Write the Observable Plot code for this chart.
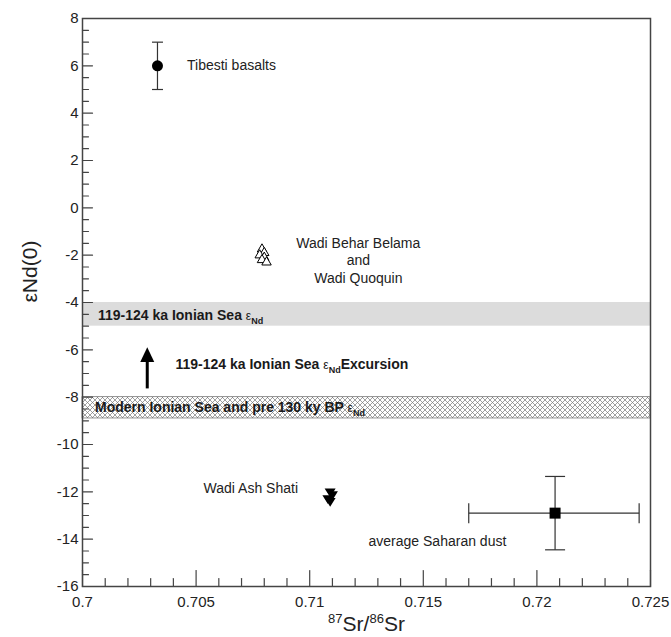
<!DOCTYPE html>
<html>
<head>
<meta charset="utf-8">
<script src="https://cdn.jsdelivr.net/npm/d3@7"></script>
<script src="https://cdn.jsdelivr.net/npm/@observablehq/plot@0.6"></script>
<style>
  html, body { margin: 0; padding: 0; background: #fff; }
  #chart svg { display: block; }
</style>
</head>
<body>
<div id="chart"></div>
<script>
// ---- data ----
const xTicks = [0.7, 0.705, 0.71, 0.715, 0.72, 0.725];
const yTicks = [-16, -14, -12, -10, -8, -6, -4, -2, 0, 2, 4, 6, 8];
const xMinorTicks = d3.range(0, 26).map(i => 0.7 + i * 0.001).filter(v => !xTicks.some(t => Math.abs(t - v) < 1e-9));
const yMinorTicks = d3.range(-16, 8.01, 0.5).filter(v => !yTicks.includes(v));

const tibesti = [{sr: 0.7033, nd: 6, ndLo: 5, ndHi: 7}];
const wadiBeharSr = [0.7079, 0.7080, 0.7078, 0.7080, 0.7079, 0.7081];
const wadiBeharNd = [-1.75, -1.9, -2.0, -2.1, -2.2, -2.3];
const wadiAshShatiSr = [0.7109, 0.7110, 0.7108, 0.7109];
const wadiAshShatiNd = [-12.0, -12.12, -12.28, -12.4];
const saharanDust = [{sr: 0.7208, nd: -12.9, srLo: 0.7170, srHi: 0.7245, ndLo: -14.45, ndHi: -11.35}];

const grayBand = [{nd1: -4.0, nd2: -5.0}];
const hatchBand = [{nd1: -8.0, nd2: -8.9}];
const excursionArrow = [{sr: 0.70285, from: -7.63, to: -5.89}];

const bandLabels = ["119-124 ka Ionian Sea εNd", "119-124 ka Ionian Sea εNdExcursion", "Modern Ionian Sea and pre 130 ky BP εNd"];
const bandLabelSr = [0.70068, 0.70409, 0.70055];
const bandLabelNd = [-4.55, -6.62, -8.43];

const sampleLabels = ["Tibesti basalts", "Wadi Behar Belama\nand\nWadi Quoquin", "Wadi Ash Shati", "average Saharan dust"];
const sampleLabelSr = [0.7046, 0.71214, 0.70533, 0.71259];
const sampleLabelNd = [6.0, -2.18, -11.85, -14.1];

const xLabel = "87Sr/86Sr";
const yLabel = "εNd(0)";

// ---- custom shapes ----
const capH = {draw(ctx, size) { const r = Math.sqrt(size / Math.PI); ctx.moveTo(-r, 0); ctx.lineTo(r, 0); }};
const capV = {draw(ctx, size) { const r = Math.sqrt(size / Math.PI); ctx.moveTo(0, -r); ctx.lineTo(0, r); }};
const triDown = {draw(ctx, size) { const r = Math.sqrt(size / Math.PI); ctx.moveTo(-r, -r * 0.6); ctx.lineTo(r, -r * 0.6); ctx.lineTo(0, r); ctx.closePath(); }};
const arrowHead = {draw(ctx, size) { const r = Math.sqrt(size / Math.PI); ctx.moveTo(0, 0); ctx.lineTo(-r, 2.1 * r); ctx.lineTo(r, 2.1 * r); ctx.closePath(); }};
const tickLine = {draw(ctx, l) { ctx.moveTo(0, 0); ctx.lineTo(0, -l); }};

const axisColor = "#444";
const font = "'Liberation Sans', Arial, sans-serif";

const plot = Plot.plot({
  width: 671,
  height: 637,
  marginLeft: 82,
  marginRight: 21,
  marginTop: 18,
  marginBottom: 51,
  x: {domain: [0.7, 0.725]},
  y: {domain: [-16, 8]},
  style: {fontFamily: font, fontSize: "14px", color: "#222", background: "#fff"},
  marks: [
    // bands
    Plot.rect(grayBand, {y1: "nd1", y2: "nd2", fill: "#dcdcdc"}),
    Plot.rect(hatchBand, {y1: "nd1", y2: "nd2", fill: "url(#xhatch)", stroke: "#777", strokeWidth: 0.8}),
    // band labels
    Plot.text(bandLabels, {x: (d, i) => bandLabelSr[i], y: (d, i) => bandLabelNd[i], text: d => d,
      textAnchor: "start", fontSize: 14, fontWeight: "bold", fill: "#1a1a1a"}),
    // arrow
    Plot.link(excursionArrow, {x1: "sr", x2: "sr", y1: "from", y2: d => d.to - 0.45, stroke: "#000", strokeWidth: 3}),
    Plot.dot(excursionArrow, {x: "sr", y: "to", symbol: arrowHead, r: 7, fill: "#000", stroke: "none"}),
    // Tibesti error bar
    Plot.link(tibesti, {x1: "sr", x2: "sr", y1: "ndLo", y2: "ndHi", stroke: "#333", strokeWidth: 1.2}),
    Plot.dot(tibesti, {x: "sr", y: "ndLo", symbol: capH, r: 5.5, stroke: "#333", fill: "none", strokeWidth: 1.2}),
    Plot.dot(tibesti, {x: "sr", y: "ndHi", symbol: capH, r: 5.5, stroke: "#333", fill: "none", strokeWidth: 1.2}),
    Plot.dot(tibesti, {x: "sr", y: "nd", symbol: "circle", r: 5.5, fill: "#000", stroke: "none"}),
    // Saharan dust error bars
    Plot.link(saharanDust, {x1: "sr", x2: "sr", y1: "ndLo", y2: "ndHi", stroke: "#333", strokeWidth: 1.2}),
    Plot.link(saharanDust, {x1: "srLo", x2: "srHi", y1: "nd", y2: "nd", stroke: "#333", strokeWidth: 1.2}),
    Plot.dot(saharanDust, {x: "sr", y: "ndLo", symbol: capH, r: 10, stroke: "#333", fill: "none", strokeWidth: 1.2}),
    Plot.dot(saharanDust, {x: "sr", y: "ndHi", symbol: capH, r: 10, stroke: "#333", fill: "none", strokeWidth: 1.2}),
    Plot.dot(saharanDust, {x: "srLo", y: "nd", symbol: capV, r: 10, stroke: "#333", fill: "none", strokeWidth: 1.2}),
    Plot.dot(saharanDust, {x: "srHi", y: "nd", symbol: capV, r: 10, stroke: "#333", fill: "none", strokeWidth: 1.2}),
    Plot.dot(saharanDust, {x: "sr", y: "nd", symbol: "square", r: 6.2, fill: "#000", stroke: "none"}),
    // Wadi Behar Belama / Wadi Quoquin (open triangles)
    Plot.dot(wadiBeharSr, {x: d => d, y: (d, i) => wadiBeharNd[i], symbol: "triangle", r: 3.5, fill: "#fff", stroke: "#000", strokeWidth: 1}),
    // Wadi Ash Shati (filled down triangles)
    Plot.dot(wadiAshShatiSr, {x: d => d, y: (d, i) => wadiAshShatiNd[i], symbol: triDown, r: 5.5, fill: "#000", stroke: "none"}),
    // sample labels
    Plot.text([sampleLabels[0]], {x: () => sampleLabelSr[0], y: () => sampleLabelNd[0], text: d => d, textAnchor: "start", fontSize: 14, fill: "#222"}),
    Plot.text([sampleLabels[1]], {x: () => sampleLabelSr[1], y: () => sampleLabelNd[1], text: d => d, textAnchor: "middle", lineAnchor: "middle", lineHeight: 1.25, fontSize: 14, fill: "#222"}),
    Plot.text([sampleLabels[2]], {x: () => sampleLabelSr[2], y: () => sampleLabelNd[2], text: d => d, textAnchor: "start", fontSize: 14, fill: "#222"}),
    Plot.text([sampleLabels[3]], {x: () => sampleLabelSr[3], y: () => sampleLabelNd[3], text: d => d, textAnchor: "start", fontSize: 14, fill: "#222"}),
    // axis tick labels
    Plot.axisY(yTicks, {anchor: "left", tickSize: 0, tickPadding: 4, tickFormat: d => String(d), fontSize: 15, label: null}),
    Plot.axisX(xTicks, {anchor: "bottom", tickSize: 0, tickPadding: 10, tickFormat: d => String(+d.toFixed(3)), fontSize: 15, label: null}),
    // inward ticks
    Plot.vector(yTicks, {y: d => d, frameAnchor: "left", rotate: 90, length: 10, anchor: "start", shape: tickLine, stroke: axisColor, strokeWidth: 1.2}),
    Plot.vector(yMinorTicks, {y: d => d, frameAnchor: "left", rotate: 90, length: 6, anchor: "start", shape: tickLine, stroke: axisColor, strokeWidth: 1.2}),
    Plot.vector(xTicks, {x: d => d, frameAnchor: "bottom", rotate: 0, length: 16, anchor: "start", shape: tickLine, stroke: axisColor, strokeWidth: 1.2}),
    Plot.vector(xMinorTicks, {x: d => d, frameAnchor: "bottom", rotate: 0, length: 8, anchor: "start", shape: tickLine, stroke: axisColor, strokeWidth: 1.2}),
    Plot.frame({stroke: axisColor, strokeWidth: 1.5}),
    // axis titles
    Plot.text([yLabel], {frameAnchor: "left", dx: -52, rotate: -90, text: d => d, fontSize: 21, fill: "#222"}),
    Plot.text([xLabel], {frameAnchor: "bottom", dy: 44, text: d => d, fontSize: 21, fill: "#222"})
  ]
});

// hatch pattern
const svg = d3.select(plot);
const defs = svg.insert("defs", ":first-child");
const pat = defs.append("pattern").attr("id", "xhatch").attr("patternUnits", "userSpaceOnUse").attr("width", 5).attr("height", 5);
pat.append("rect").attr("width", 5).attr("height", 5).attr("fill", "#fff");
pat.append("path").attr("d", "M0,0L5,5M5,0L0,5M-1,4L1,6M4,-1L6,1").attr("stroke", "#777").attr("stroke-width", 0.7).attr("fill", "none");

// rich text: subscripts / superscripts
svg.selectAll("text").each(function () {
  const t = this.textContent;
  const el = d3.select(this);
  if (this.querySelector("tspan")) return;
  if (bandLabels.includes(t)) {
    const k = t.indexOf("εNd");
    const before = t.slice(0, k), after = t.slice(k + 3);
    this.textContent = "";
    el.append("tspan").text(before);
    el.append("tspan").attr("font-weight", "normal").attr("font-size", 12).text("ε");
    el.append("tspan").attr("font-size", 9).attr("dy", 4).text("Nd");
    if (after) el.append("tspan").attr("dy", -4).text(after);
  } else if (t === xLabel) {
    this.textContent = "";
    el.append("tspan").attr("font-size", 13).attr("dy", -8).text("87");
    el.append("tspan").attr("dy", 8).text("Sr/");
    el.append("tspan").attr("font-size", 13).attr("dy", -8).text("86");
    el.append("tspan").attr("dy", 8).text("Sr");
  }
});

document.getElementById("chart").appendChild(plot);
</script>
</body>
</html>
